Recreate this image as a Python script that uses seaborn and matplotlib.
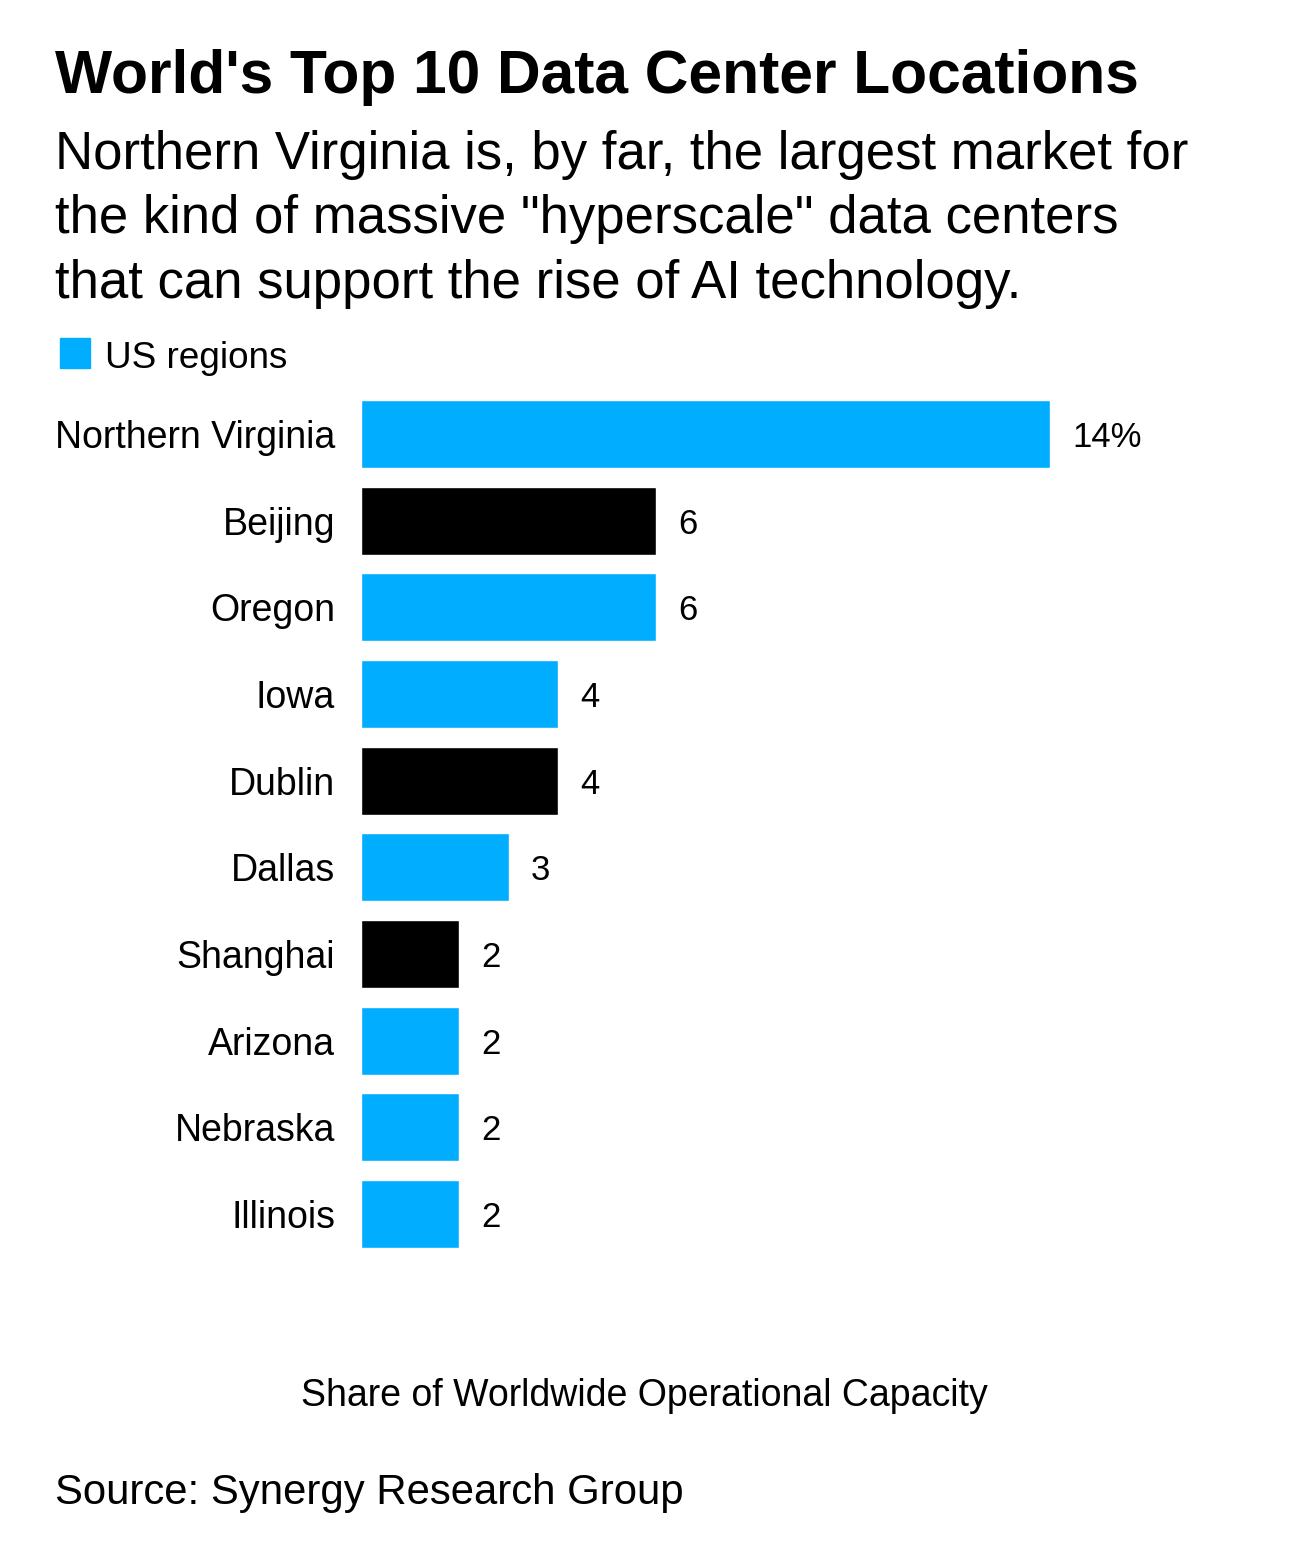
import pandas as pd
import matplotlib.pyplot as plt
import seaborn as sns
from matplotlib.patches import Rectangle

# --- data ---
locations = ['Northern Virginia', 'Beijing', 'Oregon', 'Iowa', 'Dublin',
             'Dallas', 'Shanghai', 'Arizona', 'Nebraska', 'Illinois']
share = [14, 6, 6, 4, 4, 3, 2, 2, 2, 2]
is_us = [True, False, True, True, False, True, False, True, True, True]
value_labels = ['14%', '6', '6', '4', '4', '3', '2', '2', '2', '2']

BLUE = '#00adff'
BLACK = '#000000'

df = pd.DataFrame({'location': locations, 'share': share,
                   'group': ['US' if u else 'Other' for u in is_us]})

sns.set_theme(style='white')
plt.rcParams['font.family'] = ['Liberation Sans', 'DejaVu Sans']
plt.rcParams['text.color'] = 'black'
plt.rcParams['ytick.color'] = 'black'

fig = plt.figure(figsize=(12.9, 15.64), dpi=100)
ax = fig.add_axes([0.2798, 0.1961, 0.6869, 0.5541])

sns.barplot(data=df, x='share', y='location', hue='group',
            palette={'US': BLUE, 'Other': BLACK}, dodge=False,
            width=0.785, legend=False, ax=ax, saturation=1)

ax.set_xlim(0, 18)
ax.set_ylim(9.5, -0.5)
for s in ax.spines.values():
    s.set_visible(False)
ax.set_xticks([])
ax.set_xlabel('')
ax.set_ylabel('')
ax.tick_params(axis='y', length=0, pad=18.5, labelsize=27, labelcolor='black')

# value labels next to bars
for i, (v, lab) in enumerate(zip(share, value_labels)):
    ax.annotate(lab, xy=(v, i), xytext=(16, 0), textcoords='offset points',
                ha='left', va='center_baseline', fontsize=25, color='black')

# titles
fig.text(55 / 1290, 1 - 77 / 1564, "World's Top 10 Data Center Locations",
         fontsize=43.6, fontweight='bold', ha='left', va='center')
fig.text(55 / 1290, 1 - 130 / 1564,
         'Northern Virginia is, by far, the largest market for\n'
         'the kind of massive "hyperscale" data centers\n'
         'that can support the rise of AI technology.',
         fontsize=38, ha='left', va='top', linespacing=1.37)

# legend
fig.patches.append(Rectangle((60 / 1290, 1 - 368 / 1564), 30 / 1290, 30 / 1564,
                             transform=fig.transFigure, color=BLUE))
fig.text(105 / 1290, 1 - 358 / 1564, 'US regions', fontsize=26.6,
         ha='left', va='center')

fig.text(644 / 1290, 1 - 1396 / 1564, 'Share of Worldwide Operational Capacity',
         fontsize=27, ha='center', va='center')
fig.text(55 / 1290, 1 - 1493 / 1564, 'Source: Synergy Research Group',
         fontsize=30.2, ha='left', va='center')

fig.savefig('out.png', dpi=100, facecolor='white')
